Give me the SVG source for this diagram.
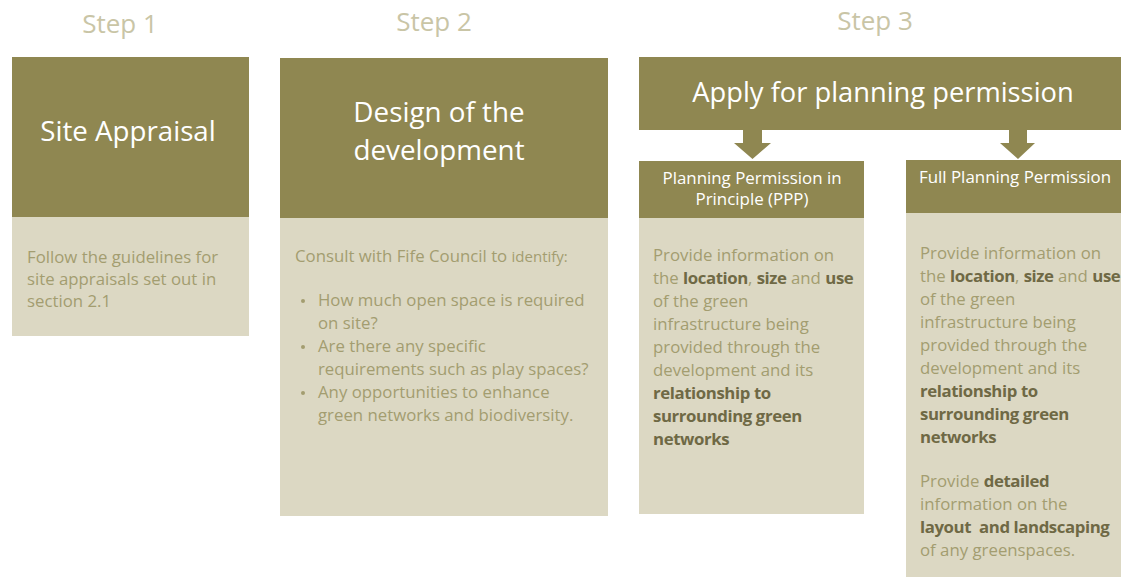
<svg xmlns="http://www.w3.org/2000/svg" width="1121" height="577" viewBox="0 0 1121 577">
<style>
.dark{fill:#8f8751}
.light{fill:#dcd8c3}
.step{font-family:"Open Sans","Liberation Sans",sans-serif;font-size:26px;fill:#c9c5a6;text-anchor:middle}
.title{font-family:"Open Sans","Liberation Sans",sans-serif;fill:#ffffff;text-anchor:middle}
.body{font-family:"Open Sans","Liberation Sans",sans-serif;font-size:16.8px;fill:#a39d70}
.b{font-weight:bold;fill:#6f6945;letter-spacing:-0.4px}
</style>
<rect width="1121" height="577" fill="#ffffff"/>
<g id="step-labels">
<text class="step" x="120" y="33">Step 1</text>
<text class="step" x="434" y="31">Step 2</text>
<text class="step" x="875" y="30">Step 3</text>
</g>
<g id="step1">
<rect class="dark" x="12" y="57" width="237" height="160"/>
<rect class="light" x="12" y="217" width="237" height="119"/>
<text class="title" x="128" y="141" font-size="27.7">Site Appraisal</text>
<text class="body" x="27"><tspan x="27" y="263">Follow the guidelines for</tspan><tspan x="27" y="285">site appraisals set out in</tspan><tspan x="27" y="307">section 2.1</tspan></text>
</g>
<g id="step2">
<rect class="dark" x="280" y="58" width="328" height="160"/>
<rect class="light" x="280" y="218" width="328" height="298"/>
<text class="title" font-size="27.8"><tspan x="439" y="122">Design of the</tspan><tspan x="439" y="160">development</tspan></text>
<text class="body" x="295" y="262">Consult with Fife Council to <tspan font-size="15">identify:</tspan></text>
<g class="body">
<circle cx="303" cy="301" r="2" fill="#a39d70"/>
<circle cx="303" cy="347" r="2" fill="#a39d70"/>
<circle cx="303" cy="393" r="2" fill="#a39d70"/>
</g>
<text class="body"><tspan x="318" y="306">How much open space is required</tspan><tspan x="318" y="329">on site?</tspan><tspan x="318" y="352">Are there any specific</tspan><tspan x="318" y="375">requirements such as play spaces?</tspan><tspan x="318" y="398">Any opportunities to enhance</tspan><tspan x="318" y="421">green networks and biodiversity.</tspan></text>
</g>
<g id="apply">
<rect class="dark" x="639" y="57" width="482" height="73"/>
<text class="title" x="883" y="102" font-size="27.3">Apply for planning permission</text>
</g>
<g id="connectors">
<polygon class="dark" points="743,130 762,130 762,143 771,143 752.5,159 734,143 743,143"/>
<polygon class="dark" points="1009,130 1027,130 1027,143 1035,143 1018,159 1000,143 1009,143"/>
</g>
<g id="ppp">
<rect class="dark" x="639" y="161" width="225" height="57"/>
<rect class="light" x="639" y="218" width="225" height="296"/>
<text class="title" font-size="16.9"><tspan x="752" y="184">Planning Permission in</tspan><tspan x="752" y="205">Principle (PPP)</tspan></text>
<text class="body"><tspan x="653" y="261">Provide information on</tspan><tspan x="653" y="284">the <tspan class="b">location</tspan>, <tspan class="b">size</tspan> and <tspan class="b">use</tspan></tspan><tspan x="653" y="307">of the green</tspan><tspan x="653" y="330">infrastructure being</tspan><tspan x="653" y="353">provided through the</tspan><tspan x="653" y="376">development and its</tspan><tspan x="653" y="399" class="b">relationship to</tspan><tspan x="653" y="422" class="b">surrounding green</tspan><tspan x="653" y="445" class="b">networks</tspan></text>
</g>
<g id="full">
<rect class="dark" x="906" y="160" width="215" height="53"/>
<rect class="light" x="906" y="213" width="215" height="364"/>
<text class="title" x="1015" y="183" font-size="16.9">Full Planning Permission</text>
<text class="body"><tspan x="920" y="259">Provide information on</tspan><tspan x="920" y="282">the <tspan class="b">location</tspan>, <tspan class="b">size</tspan> and <tspan class="b">use</tspan></tspan><tspan x="920" y="305">of the green</tspan><tspan x="920" y="328">infrastructure being</tspan><tspan x="920" y="351">provided through the</tspan><tspan x="920" y="374">development and its</tspan><tspan x="920" y="397" class="b">relationship to</tspan><tspan x="920" y="420" class="b">surrounding green</tspan><tspan x="920" y="443" class="b">networks</tspan><tspan x="920" y="487">Provide <tspan class="b">detailed</tspan></tspan><tspan x="920" y="510">information on the</tspan><tspan x="920" y="533" class="b" xml:space="preserve">layout  and landscaping</tspan><tspan x="920" y="556">of any greenspaces.</tspan></text>
</g>
</svg>
